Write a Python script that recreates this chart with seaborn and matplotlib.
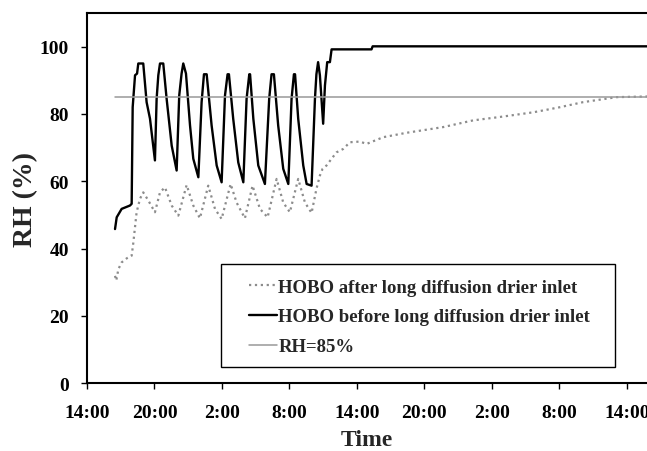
import numpy as np
import pandas as pd
import matplotlib
matplotlib.use("Agg")
import matplotlib.pyplot as plt
from matplotlib.patches import Rectangle
import seaborn as sns

# hours since 14:00 on day 1, RH in %
before_t = [2.49, 2.64, 3.08, 3.82, 3.97, 4.06, 4.27, 4.45, 4.56, 5.0, 5.3, 5.6, 6.04,
            6.19, 6.34, 6.49, 6.78, 7.08, 7.53, 7.97, 8.2, 8.41, 8.56, 8.8, 9.16, 9.45,
            9.9, 10.19, 10.4, 10.64, 11.08, 11.53, 11.97, 12.27, 12.5, 12.62, 13.0, 13.45,
            13.9, 14.19, 14.43, 14.5, 14.79, 15.23, 15.82, 16.2, 16.41, 16.62, 17.0, 17.45,
            17.9, 18.19, 18.4, 18.5, 18.78, 19.23, 19.53, 19.97, 20.27, 20.4, 20.55, 20.71,
            21.0, 21.16, 21.36, 21.6, 21.75, 25.3, 25.4, 49.8]
before_rh = [45.8, 49.3, 51.8, 52.8, 53.3, 82.0, 91.5, 92.0, 95.0, 95.0, 83.5, 78.6, 66.2,
             84.5, 91.5, 95.0, 95.0, 84.5, 70.6, 63.2, 85.5, 92.0, 95.0, 92.0, 76.6, 66.7,
             61.2, 83.5, 91.8, 91.8, 76.6, 64.7, 59.7, 85.5, 91.8, 91.8, 78.6, 65.6,
             59.7, 84.5, 91.8, 91.8, 78.6, 64.7, 59.2, 84.5, 91.8, 91.8, 76.6, 63.7,
             59.2, 84.5, 91.8, 91.8, 78.6, 64.7, 59.2, 58.7, 84.5, 91.8, 95.4, 91.5,
             77.1, 88.5, 95.4, 95.4, 99.2, 99.2, 100.1, 100.1]

after_t = [2.49, 2.6, 2.79, 3.08, 3.53, 3.97, 4.12, 4.41, 4.71, 5.0, 5.45, 6.04, 6.49,
           6.93, 7.53, 8.12, 8.86, 9.45, 10.04, 10.78, 11.38, 11.97, 12.77, 13.3, 14.04,
           14.72, 15.38, 16.06, 16.86, 17.45, 18.04, 18.78, 19.38, 19.97, 20.4, 20.71,
           20.95, 21.3, 21.75, 22.19, 22.78, 23.38, 24.27, 24.86, 26.34, 28.4, 31.67,
           34.34, 36.7, 39.7, 42.04, 44.1, 47.1, 49.8]
after_rh = [31.9, 30.5, 33.9, 35.9, 37.1, 37.9, 41.8, 50.8, 54.8, 56.7, 54.3, 50.8, 56.7,
            58.2, 52.8, 49.8, 58.9, 52.8, 49.0, 58.7, 51.8, 48.8, 59.2, 53.7, 49.0,
            58.7, 51.8, 49.3, 60.7, 53.7, 50.8, 60.7, 53.7, 50.6, 57.7, 61.7,
            63.7, 64.7, 66.7, 68.6, 69.6, 71.6, 71.8, 71.1, 73.1, 74.4, 76.1,
            78.1, 79.1, 80.5, 82.0, 83.5, 85.0, 85.2]

ref_t = [2.49, 49.8]
ref_rh = [85, 85]

tick_hours = [0, 6, 12, 18, 24, 30, 36, 42, 48]
tick_labels = ["14:00", "20:00", "2:00", "8:00", "14:00", "20:00", "2:00", "8:00", "14:00"]

sns.set_style("ticks")
plt.rcParams['font.family'] = ['Liberation Serif', 'DejaVu Serif']
plt.rcParams['font.weight'] = 'bold'

fig = plt.figure(figsize=(6.47, 4.52), dpi=100)
ax = fig.add_axes([0.1345, 0.150, 0.8655, 0.819])

after = pd.DataFrame({"t": after_t, "rh": after_rh})
before = pd.DataFrame({"t": before_t, "rh": before_rh})
ref = pd.DataFrame({"t": ref_t, "rh": ref_rh})

sns.lineplot(data=after, x="t", y="rh", ax=ax, color="#8c8c8c", linestyle=":",
             linewidth=1.6, label="HOBO after long diffusion drier inlet")
sns.lineplot(data=before, x="t", y="rh", ax=ax, color="black", linewidth=1.7,
             label="HOBO before long diffusion drier inlet")
sns.lineplot(data=ref, x="t", y="rh", ax=ax, color="#999999", linewidth=1.1,
             label="RH=85%")

ax.set_xlim(0, 49.8)
ax.set_ylim(0, 110)
ax.set_yticks([0, 20, 40, 60, 80, 100])
ax.set_xticks(tick_hours)
ax.set_xticklabels(tick_labels)
ax.tick_params(axis="both", labelsize=14, width=1, length=4,
               direction="out", colors="black")
ax.tick_params(axis="x", pad=11)
ax.tick_params(axis="y", pad=9)
for lab in ax.get_xticklabels() + ax.get_yticklabels():
    lab.set_fontweight("bold")
ax.set_xlabel("Time", fontsize=17, fontweight="bold", labelpad=6)
ax.set_ylabel("RH (%)", fontsize=20, fontweight="bold", labelpad=1)

for side in ["left", "bottom", "top"]:
    ax.spines[side].set_linewidth(1.5)
    ax.spines[side].set_color("black")
ax.spines["right"].set_visible(False)

# legend box drawn as a plain rectangle, entries placed inside it
ax.add_patch(Rectangle((0.239, 0.043), 0.704, 0.278, transform=ax.transAxes,
                       facecolor="white", edgecolor="black", linewidth=1.0, zorder=5))
leg = ax.legend(loc="upper left", bbox_to_anchor=(0.290, 0.283), frameon=False,
                labelspacing=0.68, handlelength=1.45, handletextpad=0.1,
                borderpad=0, borderaxespad=0, prop={"weight": "bold", "size": 13.5})
leg.set_zorder(6)

fig.savefig("out.png", dpi=100)
